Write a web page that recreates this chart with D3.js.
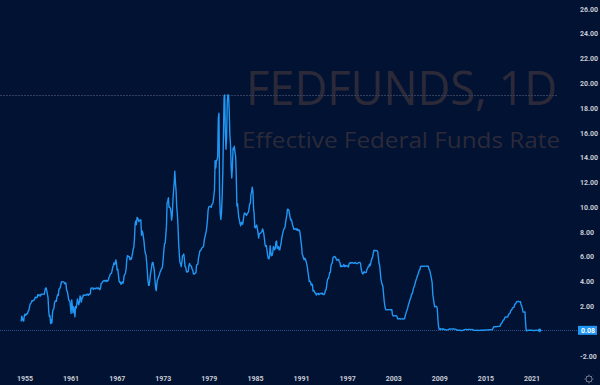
<!DOCTYPE html>
<html>
  <head>
    <meta charset="utf-8" />
    <title>FEDFUNDS</title>
    <script src="https://d3js.org/d3.v7.min.js" charset="utf-8"></script>
    <style>
      body { margin: 0; background: #011233; }
      svg { display: block; }
    </style>
  </head>
  <body>
    <svg id="canvas" width="600" height="385"></svg>
    <script>
      // monthly effective federal funds rate, starting July 1954
      var startYear = 1954, startMonth = 7;
      var rates = [
        0.80, 1.22, 1.06, 0.85, 0.83, 1.28, // 1954
        1.39, 1.29, 1.35, 1.43, 1.43, 1.64, 1.68, 1.96, 2.18, 2.24, 2.35, 2.48,
        2.45, 2.50, 2.50, 2.62, 2.75, 2.71, 2.75, 2.73, 2.95, 2.96, 2.88, 2.94,
        2.84, 3.00, 2.96, 3.00, 3.00, 3.00, 2.99, 3.24, 3.47, 3.50, 3.28, 2.98,
        2.72, 1.67, 1.20, 1.26, 0.63, 0.93, 0.68, 1.53, 1.76, 1.80, 2.27, 2.42,
        2.48, 2.43, 2.80, 2.96, 2.90, 3.39, 3.47, 3.50, 3.76, 3.98, 4.00, 3.99,
        3.99, 3.97, 3.84, 3.92, 3.85, 3.32, 3.23, 2.98, 2.60, 2.47, 2.44, 1.98, // 1960
        1.45, 2.54, 2.02, 1.49, 1.98, 1.73, 1.17, 2.00, 1.88, 2.26, 2.61, 2.33,
        2.15, 2.37, 2.85, 2.78, 2.36, 2.68, 2.71, 2.93, 2.90, 2.90, 2.94, 2.93,
        2.92, 3.00, 2.98, 2.90, 3.00, 2.99, 3.02, 3.49, 3.48, 3.50, 3.48, 3.38,
        3.48, 3.48, 3.43, 3.47, 3.50, 3.50, 3.42, 3.50, 3.45, 3.36, 3.52, 3.85,
        3.90, 3.98, 4.04, 4.09, 4.10, 4.04, 4.09, 4.12, 4.01, 4.08, 4.10, 4.32,
        4.42, 4.60, 4.65, 4.67, 4.90, 5.17, 5.30, 5.53, 5.40, 5.53, 5.76, 5.40,
        4.94, 5.00, 4.53, 4.05, 3.94, 3.98, 3.79, 3.90, 3.99, 3.88, 4.13, 4.51,
        4.60, 4.71, 5.05, 5.76, 6.11, 6.07, 6.02, 6.03, 5.78, 5.91, 5.82, 6.02,
        6.30, 6.64, 6.79, 7.41, 8.67, 8.90, 8.61, 9.19, 9.15, 9.00, 8.85, 8.97,
        8.98, 8.98, 7.76, 8.10, 7.94, 7.60, 7.21, 6.61, 6.29, 6.20, 5.60, 4.90, // 1970
        4.14, 3.72, 3.71, 4.16, 4.63, 4.91, 5.31, 5.56, 5.55, 5.20, 4.91, 4.14,
        3.50, 3.29, 3.83, 4.17, 4.27, 4.46, 4.55, 4.80, 4.87, 5.04, 5.06, 5.33,
        5.94, 6.58, 7.09, 7.12, 7.84, 8.49, 10.40, 10.50, 10.78, 10.01, 10.03, 9.95,
        9.65, 8.97, 9.35, 10.51, 11.31, 11.93, 12.92, 12.01, 11.34, 10.06, 9.45, 8.53,
        7.13, 6.24, 5.54, 5.49, 5.22, 5.55, 6.10, 6.14, 6.24, 5.82, 5.22, 5.20,
        4.87, 4.77, 4.84, 4.82, 5.29, 5.48, 5.31, 5.29, 5.25, 5.02, 4.95, 4.65,
        4.61, 4.68, 4.69, 4.73, 5.35, 5.39, 5.42, 5.90, 6.14, 6.47, 6.51, 6.56,
        6.70, 6.78, 6.79, 6.89, 7.36, 7.60, 7.81, 8.04, 8.45, 8.96, 9.76, 10.03,
        10.07, 10.06, 10.09, 10.01, 10.24, 10.29, 10.47, 10.94, 11.43, 13.77, 13.18, 13.78,
        13.82, 14.13, 17.19, 17.61, 10.98, 9.47, 9.03, 9.61, 10.87, 12.81, 15.85, 18.90, // 1980
        19.08, 15.93, 14.70, 15.72, 18.52, 19.10, 19.04, 17.82, 15.87, 15.08, 13.31, 12.37,
        13.22, 14.78, 14.68, 14.94, 14.45, 14.15, 12.59, 10.12, 10.31, 9.71, 9.20, 8.95,
        8.68, 8.51, 8.77, 8.80, 8.63, 8.98, 9.37, 9.56, 9.45, 9.48, 9.34, 9.47,
        9.56, 9.59, 9.91, 10.29, 10.32, 11.06, 11.23, 11.64, 11.30, 9.99, 9.43, 8.38,
        8.35, 8.50, 8.58, 8.27, 7.97, 7.53, 7.88, 7.90, 7.92, 7.99, 8.05, 8.27,
        8.14, 7.86, 7.48, 6.99, 6.85, 6.92, 6.56, 6.17, 5.89, 5.85, 6.04, 6.91,
        6.43, 6.10, 6.13, 6.37, 6.85, 6.73, 6.58, 6.73, 7.22, 7.29, 6.69, 6.77,
        6.83, 6.58, 6.58, 6.87, 7.09, 7.51, 7.75, 8.01, 8.19, 8.30, 8.35, 8.76,
        9.12, 9.36, 9.85, 9.84, 9.81, 9.53, 9.24, 8.99, 9.02, 8.84, 8.55, 8.45,
        8.23, 8.24, 8.28, 8.26, 8.18, 8.29, 8.15, 8.13, 8.20, 8.11, 7.81, 7.31, // 1990
        6.91, 6.25, 6.12, 5.91, 5.78, 5.90, 5.82, 5.66, 5.45, 5.21, 4.81, 4.43,
        4.03, 4.06, 3.98, 3.73, 3.82, 3.76, 3.25, 3.30, 3.22, 3.10, 3.09, 2.92,
        3.02, 3.03, 3.07, 2.96, 3.00, 3.04, 3.06, 3.03, 3.09, 2.99, 3.02, 2.96,
        3.05, 3.25, 3.34, 3.56, 4.01, 4.25, 4.26, 4.47, 4.73, 4.76, 5.29, 5.45,
        5.53, 5.92, 5.98, 6.05, 6.01, 6.00, 5.85, 5.74, 5.80, 5.76, 5.80, 5.60,
        5.56, 5.22, 5.31, 5.22, 5.24, 5.27, 5.40, 5.22, 5.30, 5.24, 5.31, 5.29,
        5.25, 5.19, 5.39, 5.51, 5.50, 5.56, 5.52, 5.54, 5.54, 5.50, 5.52, 5.50,
        5.56, 5.51, 5.49, 5.45, 5.49, 5.56, 5.54, 5.55, 5.51, 5.07, 4.83, 4.68,
        4.63, 4.76, 4.81, 4.74, 4.74, 4.76, 4.99, 5.07, 5.22, 5.20, 5.42, 5.30,
        5.45, 5.73, 5.85, 6.02, 6.27, 6.53, 6.54, 6.50, 6.52, 6.51, 6.51, 6.40, // 2000
        5.98, 5.49, 5.31, 4.80, 4.21, 3.97, 3.77, 3.65, 3.07, 2.49, 2.09, 1.82,
        1.73, 1.74, 1.73, 1.75, 1.75, 1.75, 1.73, 1.74, 1.75, 1.75, 1.34, 1.24,
        1.24, 1.26, 1.25, 1.26, 1.26, 1.22, 1.01, 1.03, 1.01, 1.01, 1.00, 0.98,
        1.00, 1.01, 1.00, 1.00, 1.00, 1.03, 1.26, 1.43, 1.61, 1.76, 1.93, 2.16,
        2.28, 2.50, 2.63, 2.79, 3.00, 3.04, 3.26, 3.50, 3.62, 3.78, 4.00, 4.16,
        4.29, 4.49, 4.59, 4.79, 4.94, 4.99, 5.24, 5.25, 5.25, 5.25, 5.25, 5.24,
        5.25, 5.26, 5.26, 5.25, 5.25, 5.25, 5.26, 5.02, 4.94, 4.76, 4.49, 4.24,
        3.94, 2.98, 2.61, 2.28, 1.98, 2.00, 2.01, 2.00, 1.81, 0.97, 0.39, 0.16,
        0.15, 0.22, 0.18, 0.15, 0.18, 0.21, 0.16, 0.16, 0.15, 0.12, 0.12, 0.12,
        0.11, 0.13, 0.16, 0.20, 0.20, 0.18, 0.18, 0.19, 0.19, 0.19, 0.19, 0.18, // 2010
        0.17, 0.16, 0.14, 0.10, 0.09, 0.09, 0.07, 0.10, 0.08, 0.07, 0.08, 0.07,
        0.08, 0.10, 0.13, 0.14, 0.16, 0.16, 0.16, 0.13, 0.14, 0.16, 0.16, 0.16,
        0.14, 0.15, 0.14, 0.15, 0.11, 0.09, 0.09, 0.08, 0.08, 0.09, 0.08, 0.09,
        0.07, 0.07, 0.08, 0.09, 0.09, 0.10, 0.09, 0.09, 0.09, 0.09, 0.09, 0.12,
        0.11, 0.11, 0.11, 0.12, 0.12, 0.13, 0.13, 0.14, 0.14, 0.12, 0.12, 0.24,
        0.34, 0.38, 0.36, 0.37, 0.37, 0.38, 0.39, 0.40, 0.40, 0.40, 0.41, 0.54,
        0.65, 0.66, 0.79, 0.90, 0.91, 1.04, 1.15, 1.16, 1.15, 1.15, 1.16, 1.30,
        1.41, 1.42, 1.51, 1.69, 1.70, 1.82, 1.91, 1.91, 1.95, 2.19, 2.20, 2.27,
        2.40, 2.40, 2.41, 2.42, 2.39, 2.38, 2.40, 2.13, 2.04, 1.83, 1.55, 1.55,
        1.55, 1.58, 0.65, 0.05, 0.05, 0.08, 0.09, 0.10, 0.09, 0.09, 0.09, 0.09, // 2020
        0.09, 0.08, 0.07, 0.07, 0.06, 0.08, 0.10, 0.09, 0.08, 0.08, 0.08, 0.08,
        0.08
      ];

      var yearTicks = [1955, 1961, 1967, 1973, 1979, 1985, 1991, 1997, 2003, 2009, 2015, 2021];
      var priceTicks = [-2, 0, 2, 4, 6, 8, 10, 12, 14, 16, 18, 20, 22, 24, 26];
      var maxRate = 19.10;
      var lastRate = 0.08;

      let canvas = d3.select("#canvas");

      var x = d3.scaleLinear().domain([1955, 2021]).range([25, 532]);
      var y = d3.scaleLinear().domain([-2, 26]).range([356.1, 9.2]);

      var points = rates.map(function (v, i) {
        return { t: startYear + (startMonth - 1 + i) / 12, v: v };
      });

      canvas.append("rect")
        .attr("width", 600).attr("height", 385)
        .attr("fill", "#011233");

      // watermark
      canvas.append("text")
        .text("FEDFUNDS, 1D")
        .attr("x", 557).attr("y", 105)
        .attr("text-anchor", "end")
        .attr("textLength", 311)
        .attr("lengthAdjust", "spacingAndGlyphs")
        .style("font-family", "'Open Sans', sans-serif")
        .style("font-size", "48px")
        .style("fill", "#2c2a39");
      canvas.append("text")
        .text("Effective Federal Funds Rate")
        .attr("x", 560).attr("y", 148)
        .attr("text-anchor", "end")
        .attr("textLength", 318)
        .attr("lengthAdjust", "spacingAndGlyphs")
        .style("font-family", "'Open Sans', sans-serif")
        .style("font-size", "22px")
        .style("fill", "#2c2a39");

      // highest value line
      canvas.append("line")
        .attr("x1", 0).attr("x2", 558)
        .attr("y1", Math.round(y(maxRate)) + 0.5).attr("y2", Math.round(y(maxRate)) + 0.5)
        .attr("stroke", "#343f5e")
        .attr("stroke-width", 1)
        .attr("stroke-dasharray", "2,1");

      // last value line
      canvas.append("line")
        .attr("x1", 0).attr("x2", 578)
        .attr("y1", Math.round(y(lastRate)) + 0.5).attr("y2", Math.round(y(lastRate)) + 0.5)
        .attr("stroke", "#2b4f86")
        .attr("stroke-width", 1)
        .attr("stroke-dasharray", "1,1");

      var line = d3.line()
        .x(function (d) { return x(d.t); })
        .y(function (d) { return y(d.v); });

      canvas.append("path")
        .datum(points)
        .attr("d", line)
        .attr("fill", "none")
        .attr("stroke", "#2196f3")
        .attr("stroke-width", 1.4)
        .attr("stroke-linejoin", "round");

      var last = points[points.length - 1];
      canvas.append("circle")
        .attr("cx", x(last.t)).attr("cy", y(last.v))
        .attr("r", 1.8)
        .attr("fill", "#2196f3");

      // price axis
      canvas.selectAll(".ptick")
        .data(priceTicks)
        .enter()
        .append("text")
        .attr("class", "ptick")
        .attr("x", 580)
        .attr("y", function (d) { return y(d); })
        .attr("dy", "0.35em")
        .text(function (d) { return d.toFixed(2); })
        .style("font-family", "Roboto, sans-serif")
        .style("font-size", "7px")
        .style("font-weight", "bold")
        .style("fill", "#c9ccd6");

      // last value label
      canvas.append("rect")
        .attr("x", 578).attr("y", y(lastRate) - 4.5)
        .attr("width", 19).attr("height", 9)
        .attr("fill", "#2196f3");
      canvas.append("text")
        .attr("x", 581).attr("y", y(lastRate))
        .attr("dy", "0.35em")
        .text(lastRate.toFixed(2))
        .style("font-family", "Roboto, sans-serif")
        .style("font-size", "7px")
        .style("font-weight", "bold")
        .style("fill", "#ffffff");

      // time axis
      canvas.selectAll(".xtick")
        .data(yearTicks)
        .enter()
        .append("text")
        .attr("class", "xtick")
        .attr("x", function (d) { return x(d); })
        .attr("y", 379)
        .attr("dy", "0.35em")
        .attr("text-anchor", "middle")
        .text(function (d) { return d; })
        .style("font-family", "Roboto, sans-serif")
        .style("font-size", "7px")
        .style("font-weight", "bold")
        .style("fill", "#c9ccd6");

      // settings gear
      var gear = canvas.append("g").attr("transform", "translate(589,379)");
      gear.append("circle")
        .attr("r", 3)
        .attr("fill", "none")
        .attr("stroke", "#6f7488")
        .attr("stroke-width", 1);
      gear.selectAll("line")
        .data(d3.range(0, 360, 45))
        .enter()
        .append("line")
        .attr("x1", function (a) { return 3 * Math.cos(a * Math.PI / 180); })
        .attr("y1", function (a) { return 3 * Math.sin(a * Math.PI / 180); })
        .attr("x2", function (a) { return 4.5 * Math.cos(a * Math.PI / 180); })
        .attr("y2", function (a) { return 4.5 * Math.sin(a * Math.PI / 180); })
        .attr("stroke", "#6f7488")
        .attr("stroke-width", 1);
    </script>
  </body>
</html>
